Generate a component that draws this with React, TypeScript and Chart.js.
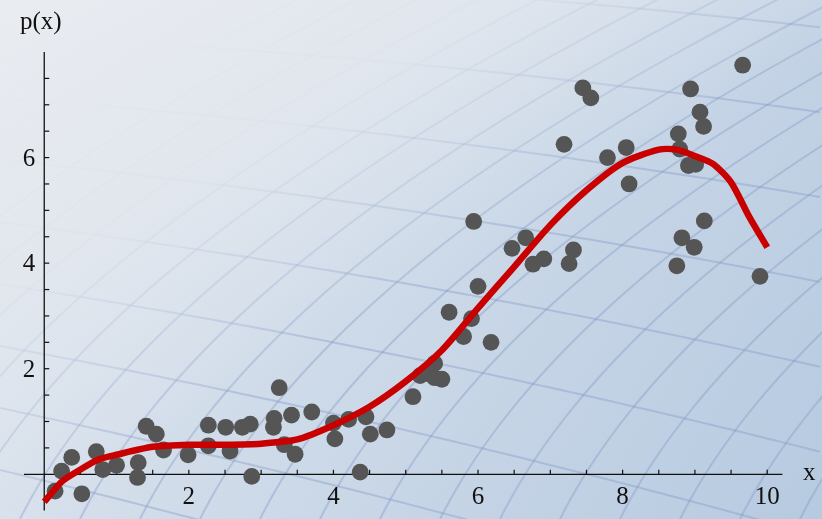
import { useEffect, useRef } from 'react';
import { Chart, registerables } from 'chart.js';
Chart.register(...registerables);

const pointX = [0.15, 0.24, 0.38, 0.52, 0.72, 0.81, 1.0, 1.3, 1.29, 1.41, 1.55, 1.65, 1.99, 2.27, 2.27, 2.51, 2.57, 2.74, 2.85, 2.87, 3.17, 3.18, 3.25, 3.32, 3.42, 3.47, 3.7, 4.0, 4.02, 4.21, 4.37, 4.45, 4.51, 4.74, 5.1, 5.2, 5.33, 5.4, 5.4, 5.5, 5.6, 5.8, 5.91, 5.94, 6.0, 6.18, 6.47, 6.66, 6.76, 6.91, 7.19, 7.26, 7.32, 7.45, 7.56, 7.79, 8.05, 8.09, 8.75, 8.77, 8.79, 8.82, 8.91, 8.94, 8.99, 9.01, 9.07, 9.12, 9.13, 9.66, 9.9];
const pointY = [-0.32, 0.06, 0.32, -0.37, 0.43, 0.09, 0.17, 0.22, -0.06, 0.91, 0.76, 0.46, 0.37, 0.93, 0.54, 0.89, 0.44, 0.89, 0.95, -0.04, 0.89, 1.06, 1.64, 0.56, 1.12, 0.38, 1.18, 0.97, 0.67, 1.04, 0.04, 1.09, 0.76, 0.84, 1.47, 1.87, 1.9, 2.1, 1.83, 1.8, 3.07, 2.61, 2.95, 4.79, 3.56, 2.5, 4.28, 4.48, 3.98, 4.08, 6.25, 3.99, 4.25, 7.32, 7.13, 6.0, 6.19, 5.5, 3.95, 6.45, 6.16, 4.48, 5.85, 7.3, 4.3, 5.87, 6.86, 6.59, 4.8, 7.75, 3.75];

const curveX = [0, 0.25, 0.5, 0.75, 1, 1.5, 2, 2.5, 3, 3.5, 4, 4.5, 5, 5.5, 6, 6.5, 7, 7.5, 8, 8.5, 8.75, 9, 9.25, 9.5, 9.75, 10];
const curveY = [-0.52, -0.13, 0.09, 0.28, 0.37, 0.52, 0.56, 0.56, 0.58, 0.66, 0.93, 1.28, 1.76, 2.35, 3.15, 3.93, 4.72, 5.38, 5.9, 6.15, 6.15, 6.03, 5.88, 5.53, 4.88, 4.3];

const xTickLabels = [2, 4, 6, 8, 10];
const yTickLabels = [2, 4, 6];
const xMinorStep = 0.5;
const yMinorStep = 0.5;

const FONT = '25px "Liberation Serif", "DejaVu Serif", serif';

const backgroundPlugin = {
  id: 'bg',
  beforeDraw(chart: any) {
    const { ctx, width, height } = chart;
    ctx.save();
    const g = ctx.createLinearGradient(0, 0, width, height);
    g.addColorStop(0, '#e8ebf0');
    g.addColorStop(0.45, '#cfdbe9');
    g.addColorStop(1, '#b6cae0');
    ctx.fillStyle = g;
    ctx.fillRect(0, 0, width, height);
    // decorative wire mesh
    ctx.strokeStyle = 'rgba(128,150,196,0.38)';
    ctx.lineWidth = 2;
    for (let a = -760; a <= 900; a += 60) {
      ctx.beginPath();
      for (let s = 0; s <= 600; s += 10) {
        const x = a + 0.5 * s + 0.0014 * s * s;
        const y = height - s;
        if (s === 0) ctx.moveTo(x, y);
        else ctx.lineTo(x, y);
      }
      ctx.stroke();
    }
    for (let b = -150; b <= 520; b += 62) {
      const slope = 0.02 + 0.00045 * (b + 150);
      ctx.beginPath();
      for (let x = 0; x <= width; x += 10) {
        const y = b + slope * x + 0.00006 * (x - 500) * (x - 500) - 15;
        if (x === 0) ctx.moveTo(x, y);
        else ctx.lineTo(x, y);
      }
      ctx.stroke();
    }
    // fade top-left, along the diagonal
    const f = ctx.createLinearGradient(0, 0, 240, 400);
    f.addColorStop(0, 'rgba(233,236,241,1)');
    f.addColorStop(0.55, 'rgba(226,231,238,0.9)');
    f.addColorStop(1, 'rgba(220,228,238,0)');
    ctx.fillStyle = f;
    ctx.fillRect(0, 0, width, height);
    ctx.restore();
  },
};

const axesPlugin = {
  id: 'mmaAxes',
  beforeDatasetsDraw(chart: any) {
    const { ctx, scales, chartArea } = chart;
    const xs = scales.x;
    const ys = scales.y;
    const x0 = xs.getPixelForValue(0);
    const y0 = ys.getPixelForValue(0);
    ctx.save();
    ctx.strokeStyle = '#111';
    ctx.fillStyle = '#111';
    ctx.lineWidth = 1.3;
    ctx.beginPath();
    ctx.moveTo(chartArea.left, y0);
    ctx.lineTo(chartArea.right, y0);
    ctx.stroke();
    ctx.beginPath();
    ctx.moveTo(x0, chartArea.top);
    ctx.lineTo(x0, chartArea.bottom);
    ctx.stroke();
    ctx.lineWidth = 1.2;
    for (let v = xMinorStep; v <= xs.max; v += xMinorStep) {
      const px = xs.getPixelForValue(v);
      ctx.beginPath();
      ctx.moveTo(px, y0);
      ctx.lineTo(px, y0 - 4.5);
      ctx.stroke();
    }
    for (let v = yMinorStep; v <= ys.max - 0.01; v += yMinorStep) {
      const py = ys.getPixelForValue(v);
      ctx.beginPath();
      ctx.moveTo(x0, py);
      ctx.lineTo(x0 + 5, py);
      ctx.stroke();
    }
    ctx.font = FONT;
    ctx.textAlign = 'center';
    ctx.textBaseline = 'alphabetic';
    xTickLabels.forEach((v) => {
      ctx.fillText(String(v), xs.getPixelForValue(v), y0 + 29.5);
    });
    ctx.textAlign = 'right';
    yTickLabels.forEach((v) => {
      ctx.fillText(String(v), x0 - 9, ys.getPixelForValue(v) + 8);
    });
    ctx.textAlign = 'left';
    ctx.fillText('x', 803, y0 + 6);
    ctx.fillText('p(x)', 20, 29);
    ctx.restore();
  },
};

export default function App() {
  const ref = useRef<HTMLCanvasElement | null>(null);
  useEffect(() => {
    document.body.style.margin = '0';
    const canvas = ref.current;
    if (!canvas) return;
    const points = pointX.map((x, i) => ({ x, y: pointY[i] }));
    const curve = curveX.map((x, i) => ({ x, y: curveY[i] }));
    const chart = new Chart(canvas, {
      type: 'scatter',
      data: {
        datasets: [
          {
            label: 'fit',
            data: curve,
            showLine: true,
            borderColor: '#c80000',
            borderWidth: 6.5,
            pointRadius: 0,
            pointHoverRadius: 0,
            fill: false,
            tension: 0.25,
            borderJoinStyle: 'round',
            borderCapStyle: 'butt',
            clip: false,
            order: 0,
          } as any,
          {
            label: 'data',
            data: points,
            backgroundColor: '#555555',
            borderWidth: 0,
            pointRadius: 8.4,
            pointHoverRadius: 8.4,
            clip: false,
            order: 1,
          } as any,
        ],
      },
      options: {
        animation: false,
        responsive: false,
        devicePixelRatio: 1,
        layout: { padding: { left: 24, right: 39.6, top: 52, bottom: 0 } },
        plugins: { legend: { display: false }, tooltip: { enabled: false } },
        events: [],
        scales: {
          x: { type: 'linear', min: -0.28, max: 10.21, display: false },
          y: { type: 'linear', min: -0.688, max: 8, display: false },
        },
      },
      plugins: [backgroundPlugin, axesPlugin],
    });
    return () => chart.destroy();
  }, []);
  return (
    <div style={{ position: 'absolute', left: 0, top: 0, width: 822, height: 519 }}>
      <canvas ref={ref} width={822} height={519} style={{ display: 'block' }} />
    </div>
  );
}
